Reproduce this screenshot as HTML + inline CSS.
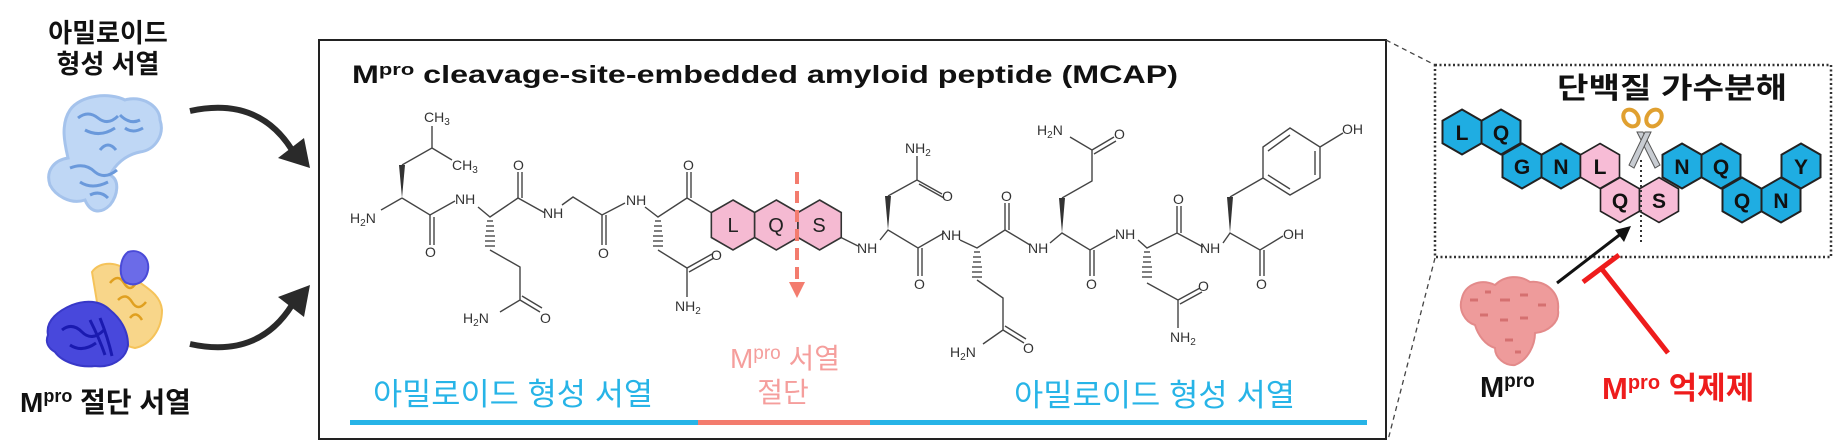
<!DOCTYPE html>
<html><head><meta charset="utf-8"><style>
html,body{margin:0;padding:0;background:#fff;}
svg{display:block;}
.k{font-family:"Liberation Sans","Noto Sans CJK KR",sans-serif;}
.c{font-family:"Liberation Sans",sans-serif;font-size:14px;fill:#333;}
</style></head><body>
<svg width="1834" height="443" viewBox="0 0 1834 443" xmlns="http://www.w3.org/2000/svg">
<defs>
<g id="hexp"><polygon points="0,-25 21.65,-12.5 21.65,12.5 0,25 -21.65,12.5 -21.65,-12.5" fill="#f5bad2" stroke="#333" stroke-width="1.6"/></g>
<g id="hexb"><polygon points="0,-22.5 19.5,-11.25 19.5,11.25 0,22.5 -19.5,11.25 -19.5,-11.25" fill="#1fade2" stroke="#222" stroke-width="2"/></g>
<g id="hexq"><polygon points="0,-22.5 19.5,-11.25 19.5,11.25 0,22.5 -19.5,11.25 -19.5,-11.25" fill="#f7bcd6" stroke="#222" stroke-width="1.6"/></g>
</defs>

<!-- left labels -->
<text x="108" y="42" text-anchor="middle" class="k" font-size="26" font-weight="bold" fill="#111">아밀로이드</text>
<text x="108" y="73" text-anchor="middle" class="k" font-size="26" font-weight="bold" fill="#111">형성 서열</text>
<text x="20" y="412" class="k" font-size="28" font-weight="bold" fill="#111">M<tspan font-size="18" dy="-10">pro</tspan><tspan dy="10"> 절단 서열</tspan></text>

<!-- top protein (light blue) -->
<g opacity="0.9">
<path d="M70,110 C80,95 110,92 125,100 C140,95 160,105 160,120 C165,135 155,150 140,152 C125,155 115,165 110,175 C120,180 118,195 110,205 C100,215 90,212 85,200 C70,205 55,195 50,185 C45,170 55,160 68,158 C65,145 60,125 70,110 Z" fill="#b9d3f5" stroke="#9cbdea" stroke-width="3"/>
<path d="M78,118 q10,-8 20,0 q10,8 20,-2 M85,130 q15,8 30,-2 M120,115 q10,10 20,5 M125,128 q8,6 18,0 M70,168 q15,-6 25,4 q10,8 22,-2 M80,182 q12,8 28,0 M90,195 q10,-5 18,3 M100,150 q8,-10 16,0" fill="none" stroke="#5a8fd8" stroke-width="3"/>
</g>

<!-- bottom protein (blue + yellow) -->
<path d="M92,272 C100,260 120,262 128,272 C138,285 160,290 162,310 C162,330 150,345 135,348 C120,345 110,335 100,320 Z" fill="#f8d68a" stroke="#f5c35a" stroke-width="2"/>
<path d="M110,283 q8,-10 14,0 q6,10 12,0 M118,300 q8,-8 14,2 q6,10 14,0 M130,318 q6,-8 12,2" fill="none" stroke="#e0a020" stroke-width="2.5"/>
<path d="M128,252 C140,248 150,258 148,270 C146,282 135,288 125,282 C118,275 120,258 128,252 Z" fill="#6b6be8" stroke="#4a4ad8" stroke-width="2"/>
<path d="M48,335 C45,320 60,310 72,305 C85,300 100,300 110,310 C120,318 128,330 128,345 C126,360 110,368 95,366 C80,368 62,362 55,352 C48,348 45,342 48,335 Z" fill="#4848dc" stroke="#3838c8" stroke-width="2"/>
<path d="M62,330 q10,-8 20,2 q10,10 22,-2 M70,345 q12,8 26,-2 M90,320 q10,20 15,35 M100,318 q8,20 12,38" fill="none" stroke="#1a1ab0" stroke-width="3"/>

<!-- curved arrows -->
<path d="M190,111 C240,100 272,118 292,150" fill="none" stroke="#2a2a2a" stroke-width="6"/>
<polygon points="278,158 304,138 310,168" fill="#2a2a2a"/>
<path d="M190,344 C240,355 272,337 292,305" fill="none" stroke="#2a2a2a" stroke-width="6"/>
<polygon points="278,297 304,317 310,285" fill="#2a2a2a"/>

<!-- main box -->
<rect x="319" y="40" width="1067" height="399" fill="none" stroke="#222" stroke-width="2"/>
<text x="352" y="83" class="k" font-size="25" font-weight="bold" fill="#111" textLength="826" lengthAdjust="spacingAndGlyphs">M<tspan font-size="17" dy="-8">pro</tspan><tspan dy="8"> cleavage-site-embedded amyloid peptide (MCAP)</tspan></text>

<!-- chemistry -->
<g stroke="#444" stroke-width="1.4" fill="none">
<path d="M381,210 L402,198 M402,165 L432,148 L432,126 M432,148 L452,160 M402,198 L430,215 L455,201"/>
<path d="M430,215 L430,245 M434,217 L434,245"/>
<path d="M478,207 L490,217 L518,198 L545,213 M490,250 L520,267 L520,300 L500,312 M520,300 L540,312 M522,296 L542,308"/>
<path d="M518,198 L518,172 M522,198 L522,172"/>
<path d="M562,205 L573,197 L602,215 L625,203 M602,215 L602,245 M606,215 L606,245"/>
<path d="M645,207 L658,217 L687,198 L711,212.5 M687,198 L687,172 M691,198 L691,172 M658,250 L687,268 L712,254 M689,272 L714,258 M687,268 L687,297"/>
<path d="M841,237.5 L858,246 M880,240 L888,230 L918,248 L944,233 M888,196 L917,180 L917,156 M917,180 L942,194 M919,184 L944,198 M918,248 L918,276 M922,248 L922,276"/>
<path d="M960,240 L977,248 L1005,230 L1030,245 M1005,230 L1005,203 M1009,230 L1009,203 M977,280 L1003,298 L1003,330 L983,344 M1003,330 L1024,343 M1005,326 L1026,339"/>
<path d="M1050,243 L1062,233 L1090,250 L1115,236 M1062,198 L1092,181 L1092,150 L1070,137 M1092,150 L1114,137 M1094,154 L1116,141 M1090,250 L1090,276 M1094,250 L1094,276"/>
<path d="M1138,240 L1147,248 L1177,233 L1203,247 M1177,233 L1177,206 M1181,233 L1181,206 M1147,283 L1178,300 L1178,328 M1178,300 L1200,288 M1180,304 L1202,292"/>
<path d="M1223,243 L1230,233 L1260,250 L1283,236 M1230,197 L1263,178 M1260,250 L1260,276 M1264,250 L1264,276"/>
<path d="M1263,178 L1263,147 L1290,128 L1320,147 L1320,178 L1290,195 Z M1268,151 L1290,135 M1315,151 L1315,175 M1290,189 L1268,175 M1320,147 L1343,133"/>
</g>
<g fill="#333">
<polygon points="402,198 399,165 405,165"/>
<polygon points="888,230 885,196 891,196"/>
<polygon points="1062,233 1059,198 1065,198"/>
<polygon points="1230,233 1227,197 1233,197"/>
</g>
<g stroke="#333" stroke-width="1.2">
<path d="M487,221h6M486,226h8M486,231h8M485,236h10M485,241h10M485,246h10"/>
<path d="M655,221h6M654,226h8M654,231h8M653,236h10M653,241h10M653,246h10"/>
<path d="M974,252h6M973,257h8M973,262h8M972,267h10M972,272h10M972,277h10"/>
<path d="M1144,252h6M1143,257h8M1143,262h8M1142,267h10M1142,272h10M1142,277h10"/>
</g>
<g class="c">
<text x="350" y="223">H<tspan font-size="10" dy="3">2</tspan><tspan dy="-3">N</tspan></text>
<text x="424" y="122">CH<tspan font-size="10" dy="3">3</tspan></text>
<text x="452" y="170">CH<tspan font-size="10" dy="3">3</tspan></text>
<text x="425" y="257">O</text>
<text x="455" y="204">NH</text>
<text x="463" y="323">H<tspan font-size="10" dy="3">2</tspan><tspan dy="-3">N</tspan></text>
<text x="540" y="323">O</text>
<text x="513" y="170">O</text>
<text x="543" y="218">NH</text>
<text x="598" y="258">O</text>
<text x="626" y="205">NH</text>
<text x="683" y="170">O</text>
<text x="711" y="260">O</text>
<text x="675" y="311">NH<tspan font-size="10" dy="3">2</tspan></text>
<text x="857" y="253">NH</text>
<text x="905" y="153">NH<tspan font-size="10" dy="3">2</tspan></text>
<text x="942" y="201">O</text>
<text x="914" y="289">O</text>
<text x="941" y="240">NH</text>
<text x="1001" y="201">O</text>
<text x="950" y="357">H<tspan font-size="10" dy="3">2</tspan><tspan dy="-3">N</tspan></text>
<text x="1023" y="353">O</text>
<text x="1028" y="253">NH</text>
<text x="1037" y="135">H<tspan font-size="10" dy="3">2</tspan><tspan dy="-3">N</tspan></text>
<text x="1114" y="139">O</text>
<text x="1086" y="289">O</text>
<text x="1115" y="239">NH</text>
<text x="1198" y="291">O</text>
<text x="1170" y="342">NH<tspan font-size="10" dy="3">2</tspan></text>
<text x="1173" y="204">O</text>
<text x="1200" y="253">NH</text>
<text x="1342" y="134">OH</text>
<text x="1256" y="289">O</text>
<text x="1283" y="239">OH</text>
</g>

<!-- LQS hexes -->
<use href="#hexp" x="733" y="225"/><use href="#hexp" x="776.3" y="225"/><use href="#hexp" x="819.6" y="225"/>
<g class="k" font-size="20" fill="#222" text-anchor="middle">
<text x="733" y="232">L</text><text x="776" y="232">Q</text><text x="819" y="232">S</text>
</g>
<line x1="797" y1="172" x2="797" y2="285" stroke="#f37c6e" stroke-width="4" stroke-dasharray="12,7"/>
<polygon points="789,282 805,282 797,298" fill="#f37c6e"/>

<!-- bottom labels -->
<text x="373" y="405" class="k" font-size="31" fill="#27b4e7" textLength="280" lengthAdjust="spacingAndGlyphs">아밀로이드 형성 서열</text>
<text x="1014" y="406" class="k" font-size="31" fill="#27b4e7" textLength="281" lengthAdjust="spacingAndGlyphs">아밀로이드 형성 서열</text>
<text x="785" y="368" text-anchor="middle" class="k" font-size="28" fill="#f59e9c">M<tspan font-size="19" dy="-9">pro</tspan><tspan dy="9"> 서열</tspan></text>
<text x="783" y="402" text-anchor="middle" class="k" font-size="28" fill="#f59e9c">절단</text>
<rect x="350" y="420" width="348" height="5" fill="#27b4e7"/>
<rect x="698" y="420" width="172" height="5" fill="#f37c6e"/>
<rect x="870" y="420" width="497" height="5" fill="#27b4e7"/>

<!-- zoom dashed lines -->
<line x1="1386" y1="40" x2="1435" y2="65" stroke="#444" stroke-width="1.3" stroke-dasharray="5,4"/>
<line x1="1435" y1="258" x2="1388" y2="440" stroke="#444" stroke-width="1.3" stroke-dasharray="5,4"/>
<rect x="1435" y="65" width="396" height="192" fill="none" stroke="#333" stroke-width="2.5" stroke-dasharray="2,2.5"/>
<text x="1557" y="98" class="k" font-size="29" font-weight="bold" fill="#111" textLength="230" lengthAdjust="spacingAndGlyphs">단백질 가수분해</text>

<!-- peptide hexes -->
<use href="#hexb" x="1462" y="132"/><use href="#hexb" x="1501" y="132"/>
<use href="#hexb" x="1522" y="166"/><use href="#hexb" x="1561" y="166"/>
<use href="#hexq" x="1600" y="166"/>
<use href="#hexq" x="1620" y="200"/><use href="#hexq" x="1659" y="200"/>
<use href="#hexb" x="1682" y="166"/><use href="#hexb" x="1721" y="166"/>
<use href="#hexb" x="1742" y="200"/><use href="#hexb" x="1781" y="200"/>
<use href="#hexb" x="1801" y="166"/>
<g class="k" font-size="21" font-weight="bold" fill="#111" text-anchor="middle">
<text x="1462" y="140">L</text><text x="1501" y="140">Q</text>
<text x="1522" y="174">G</text><text x="1561" y="174">N</text><text x="1600" y="174">L</text>
<text x="1620" y="208">Q</text><text x="1659" y="208">S</text>
<text x="1682" y="174">N</text><text x="1721" y="174">Q</text>
<text x="1742" y="208">Q</text><text x="1781" y="208">N</text><text x="1801" y="174">Y</text>
</g>
<line x1="1641" y1="160" x2="1641" y2="242" stroke="#333" stroke-width="2" stroke-dasharray="2,3"/>
<!-- scissors -->
<g>
<polygon points="1637,132 1643,132 1660,165 1655,168" fill="#c8ccd2" stroke="#555" stroke-width="1"/>
<polygon points="1645,132 1651,132 1634,168 1629,165" fill="#c8ccd2" stroke="#555" stroke-width="1"/>
<ellipse cx="1631" cy="118" rx="7" ry="9" transform="rotate(-35 1631 118)" fill="none" stroke="#e0a030" stroke-width="4"/>
<ellipse cx="1654" cy="118" rx="7" ry="9" transform="rotate(35 1654 118)" fill="none" stroke="#e0a030" stroke-width="4"/>
</g>

<!-- Mpro arrow and inhibitor -->
<line x1="1557" y1="283" x2="1622" y2="233" stroke="#111" stroke-width="3"/>
<polygon points="1631,226 1615,230 1624,242" fill="#111"/>
<line x1="1583" y1="282" x2="1619" y2="255" stroke="#ee1c1c" stroke-width="5"/>
<line x1="1601" y1="268" x2="1668" y2="353" stroke="#ee1c1c" stroke-width="5"/>

<!-- pink protein -->
<path d="M1462,298 C1465,285 1480,278 1495,285 C1505,275 1520,275 1530,282 C1545,280 1560,292 1558,310 C1560,322 1548,332 1535,333 C1535,345 1528,360 1515,365 C1505,366 1495,358 1495,348 C1485,345 1478,335 1475,325 C1465,322 1458,310 1462,298 Z" fill="#ee9b9b" stroke="#e38a8a" stroke-width="2"/>
<path d="M1470,300 h8 M1485,292 h6 M1500,300 h10 M1520,295 h8 M1538,305 h8 M1480,315 h8 M1500,320 h8 M1520,318 h8 M1505,340 h8 M1515,352 h6" stroke="#d57070" stroke-width="3"/>
<text x="1480" y="397" class="k" font-size="29" font-weight="bold" fill="#111">M<tspan font-size="19" dy="-10">pro</tspan></text>
<text x="1602" y="399" class="k" font-size="31" font-weight="bold" fill="#ee1c1c">M<tspan font-size="20" dy="-10">pro</tspan><tspan dy="10"> 억제제</tspan></text>
</svg>
</body></html>
